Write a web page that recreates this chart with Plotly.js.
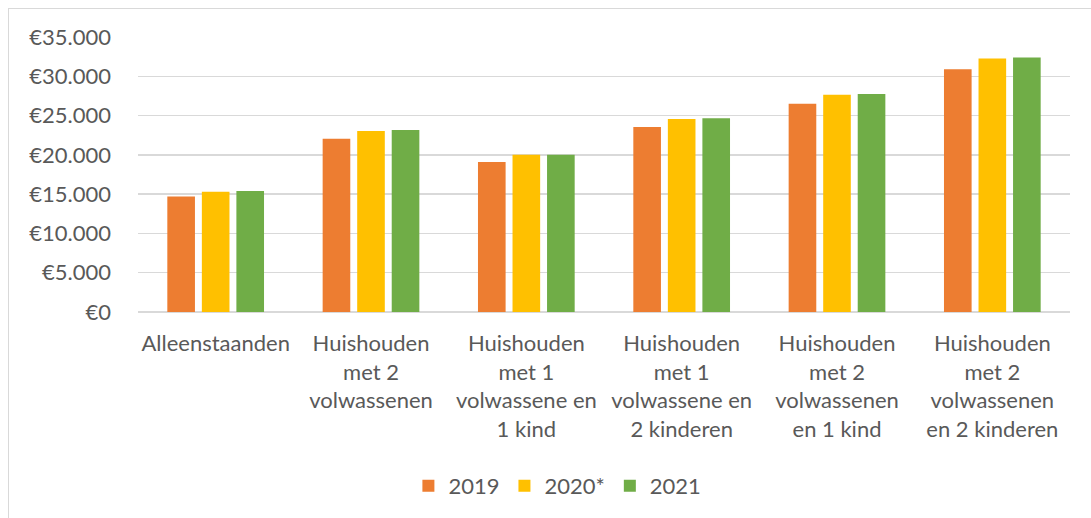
<!DOCTYPE html>
<html>
<head>
<meta charset="utf-8">
<script src="https://cdn.plot.ly/plotly-3.0.1.min.js"></script>
<style>
  html, body { margin: 0; padding: 0; background: #fff; }
  #wrap { position: relative; width: 1091px; height: 518px; }
  #chart { width: 1091px; height: 518px; }
  #frame { position: absolute; left: 8px; top: 8px; right: -2px; bottom: -2px;
           border-left: 1.5px solid #d9d9d9; border-top: 1.5px solid #d9d9d9; pointer-events: none; }
</style>
</head>
<body>
<div id="wrap">
  <div id="chart"></div>
  <div id="frame"></div>
</div>
<script>
const categories = [
  "Alleenstaanden",
  "Huishouden<br>met 2<br>volwassenen",
  "Huishouden<br>met 1<br>volwassene en<br>1 kind",
  "Huishouden<br>met 1<br>volwassene en<br>2 kinderen",
  "Huishouden<br>met 2<br>volwassenen<br>en 1 kind",
  "Huishouden<br>met 2<br>volwassenen<br>en 2 kinderen"
];
const seriesNames = ["2019", "2020*", "2021"];
const values2019 = [14700, 22050, 19100, 23550, 26500, 30900];
const values2020 = [15300, 23050, 20000, 24550, 27650, 32250];
const values2021 = [15400, 23150, 20000, 24650, 27750, 32400];
const yTickValues = [0, 5000, 10000, 15000, 20000, 25000, 30000, 35000];
const yTickLabels = ["\u20AC0", "\u20AC5.000", "\u20AC10.000", "\u20AC15.000", "\u20AC20.000", "\u20AC25.000", "\u20AC30.000", "\u20AC35.000"];

const colors = ["#ED7D31", "#FFC000", "#70AD47"];
const allValues = [values2019, values2020, values2021];

const traces = allValues.map((vals, i) => ({
  type: "bar",
  name: seriesNames[i],
  x: categories,
  y: vals,
  marker: { color: colors[i] },
  hoverinfo: "none"
}));

const layout = {
  width: 1091,
  height: 518,
  margin: { l: 138, r: 21, t: 37, b: 205 },
  paper_bgcolor: "#ffffff",
  plot_bgcolor: "#ffffff",
  font: { family: "Lato, 'Open Sans', sans-serif", size: 22, color: "#595959" },
  barmode: "group",
  bargap: 0.333,
  bargroupgap: 0.2,
  showlegend: true,
  legend: {
    orientation: "h",
    x: 0.45, xanchor: "center",
    y: -0.627, yanchor: "middle",
    font: { size: 22, color: "#595959" },
    traceorder: "normal"
  },
  xaxis: {
    type: "category",
    tickangle: 0,
    showgrid: false,
    zeroline: false,
    showline: false,
    ticks: "",
    ticklabelstandoff: 16,
    fixedrange: true
  },
  yaxis: {
    range: [0, 35000],
    tickmode: "array",
    tickvals: yTickValues,
    ticktext: yTickLabels,
    showgrid: true,
    gridcolor: "#d9d9d9",
    gridwidth: 1.5,
    zeroline: true,
    zerolinecolor: "#d9d9d9",
    zerolinewidth: 1.5,
    showline: false,
    ticks: "",
    ticklabelstandoff: 26,
    fixedrange: true
  }
};

Plotly.newPlot("chart", traces, layout, { displayModeBar: false, staticPlot: true });
</script>
</body>
</html>
